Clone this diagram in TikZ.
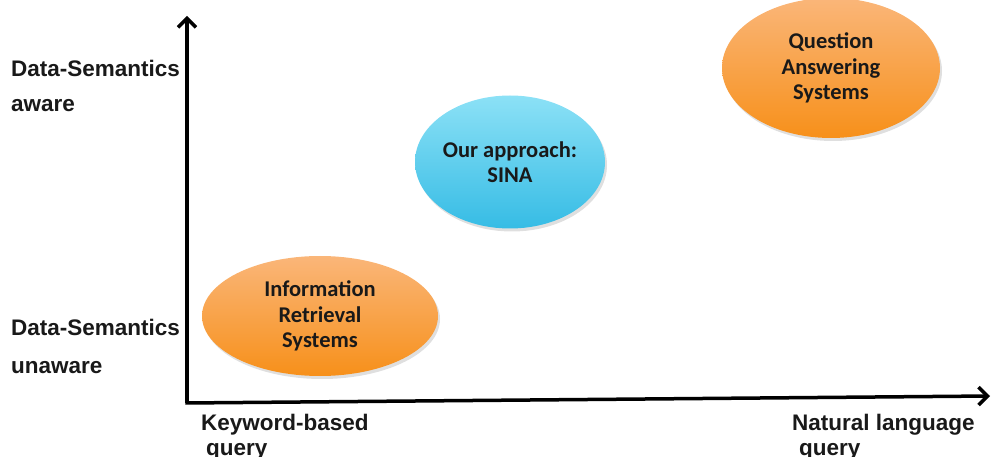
\documentclass[tikz,border=0pt]{standalone}
\usepackage{fontspec}
\setmainfont{Liberation Sans}
\newfontfamily\calib{Carlito}
\usetikzlibrary{shapes.geometric,shadings,shadows,arrows.meta}
\definecolor{orTop}{HTML}{FAB679}
\definecolor{orBot}{HTML}{F7901A}
\definecolor{blTop}{HTML}{8CE1F6}
\definecolor{blBot}{HTML}{36BCE5}
\tikzset{
  axis/.style={line width=3.5pt,-{Straight Barb[length=9pt,width=18pt,line width=3.5pt]}},
  lbl/.style={anchor=base west,inner sep=0pt,font=\fontsize{22.5}{27}\selectfont\bfseries,text=black!90},
  blob/.style={ellipse,inner sep=0pt,align=center,
    font=\calib\fontsize{22.5}{25.5}\selectfont\bfseries,text=black!90,
    drop shadow={shadow xshift=2pt,shadow yshift=-3pt,opacity=0.25}},
  orblob/.style={blob,top color=orTop,bottom color=orBot},
  blblob/.style={blob,top color=blTop,bottom color=blBot}
}
\begin{document}
\begin{tikzpicture}[x=1pt,y=-1pt]
\useasboundingbox (0,0) rectangle (994,457);
% axes
\coordinate (o) at (187,403);
\coordinate (ytip) at (187,16);
\coordinate (xtip) at (990,396);
\draw[axis] (o) -- (ytip);
\draw[axis] ([xshift=-1.75pt]o) -- (xtip);
% ellipses
\node[orblob,minimum width=236pt,minimum height=120pt] (ir) at (320,316)
  {Information\\Retrieval\\Systems};
\node[blblob,minimum width=190pt,minimum height=133pt] (sina) at (510,162)
  {Our approach:\\SINA};
\node[orblob,minimum width=218pt,minimum height=140pt] (qa) at (831,68)
  {Question\\Answering\\Systems};
% axis labels
\node[lbl] (ya1) at (11,77) {Data-Semantics};
\node[lbl] (ya2) at (11,112) {aware};
\node[lbl] (yu1) at (11,335) {Data-Semantics};
\node[lbl] (yu2) at (11,373) {unaware};
\node[lbl] (xk1) at (201,430) {Keyword-based};
\node[lbl] (xk2) at (206,455) {query};
\node[lbl] (xn1) at (792,430) {Natural language};
\node[lbl] (xn2) at (799,455) {query};
\end{tikzpicture}
\end{document}
